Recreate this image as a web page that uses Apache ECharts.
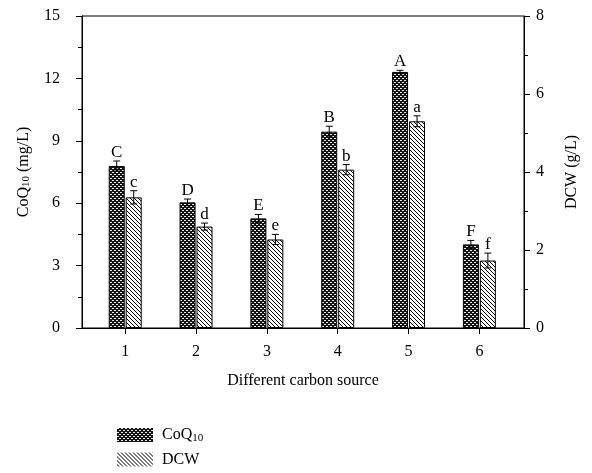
<!DOCTYPE html>
<html>
<head>
<meta charset="utf-8">
<script src="https://cdn.jsdelivr.net/npm/echarts@6/dist/echarts.min.js"></script>
<style>
  html, body { margin: 0; padding: 0; background: #fff; }
  #chart { width: 592px; height: 473px; }
</style>
</head>
<body>
<div id="chart"></div>
<script>
// data
var categories = [1, 2, 3, 4, 5, 6];
var coqValues = [7.79, 6.04, 5.27, 9.44, 12.31, 4.02];
var coqErrors = [0.24, 0.16, 0.19, 0.26, 0.08, 0.19];
var coqLetters = ['C', 'D', 'E', 'B', 'A', 'F'];
var dcwValues = [3.35, 2.60, 2.27, 4.06, 5.30, 1.73];
var dcwErrors = [0.17, 0.09, 0.13, 0.13, 0.14, 0.19];
var dcwLetters = ['c', 'd', 'e', 'b', 'a', 'f'];

var serif = 'Liberation Serif';

function makePattern(kind) {
    var c = document.createElement('canvas');
    c.width = 4; c.height = 4;
    var ctx = c.getContext('2d');
    if (kind === 'cross') {
        ctx.fillStyle = '#151515';
        ctx.fillRect(0, 0, 4, 4);
        ctx.fillStyle = '#e8e8e8';
        ctx.fillRect(0, 0, 2, 1);
        ctx.fillRect(2, 2, 2, 1);
    } else {
        ctx.fillStyle = '#fff';
        ctx.fillRect(0, 0, 4, 4);
        ctx.fillStyle = '#000';
        for (var i = 0; i < 4; i++) ctx.fillRect(i, i, 1, 1);
    }
    return { image: c, repeat: 'repeat' };
}

var coqFill = makePattern('cross');
var dcwFill = makePattern('diag');

function pairs(vals, errs, letters) {
    return categories.map(function (c, i) { return [c, vals[i], errs[i], letters[i]]; });
}

function errorRenderer(offset) {
    return function (params, api) {
        var x = api.value(0), y = api.value(1), e = api.value(2);
        var top = api.coord([x, y + e]);
        var bot = api.coord([x, y - e]);
        var cx = top[0] + offset;
        var lineStyle = { stroke: '#000', lineWidth: 1 };
        return {
            type: 'group',
            children: [
                { type: 'line', shape: { x1: cx, y1: top[1], x2: cx, y2: bot[1] }, style: lineStyle },
                { type: 'line', shape: { x1: cx - 3.5, y1: top[1], x2: cx + 3.5, y2: top[1] }, style: lineStyle },
                { type: 'line', shape: { x1: cx - 3.5, y1: bot[1], x2: cx + 3.5, y2: bot[1] }, style: lineStyle },
                {
                    type: 'text',
                    style: {
                        x: cx, y: top[1],
                        text: api.value(3),
                        align: 'center', verticalAlign: 'bottom',
                        font: '17px "Liberation Serif"', fill: '#000'
                    }
                }
            ]
        };
    };
}

var dom = document.getElementById('chart');
var myChart = echarts.init(dom);
var option = {
    animation: false,
    textStyle: { fontFamily: serif, color: '#000' },
    grid: {
        left: 82, right: 68, top: 16, bottom: 145,
        show: true, borderColor: '#000', borderWidth: 1
    },
    legend: {
        orient: 'vertical',
        left: 112, top: 422,
        itemWidth: 36, itemHeight: 14, itemGap: 8,
        icon: 'rect',
        itemStyle: { borderWidth: 0 },
        data: ['CoQ10', 'DCW'],
        formatter: function (name) {
            return name === 'CoQ10' ? 'CoQ{sub|10}' : name;
        },
        textStyle: {
            fontFamily: serif, fontSize: 16, color: '#000', padding: [0, 0, 0, 4],
            rich: { sub: { fontFamily: serif, fontSize: 11, verticalAlign: 'bottom', padding: [6, 0, 0, 0] } }
        }
    },
    xAxis: {
        type: 'value',
        min: 0.39, max: 6.63,
        name: 'Different carbon source',
        nameLocation: 'middle', nameGap: 45,
        nameTextStyle: { fontFamily: serif, fontSize: 16, color: '#000' },
        splitLine: { show: false },
        axisLine: { show: true, lineStyle: { color: '#000' } },
        axisTick: { show: true, inside: false, length: 6, customValues: categories, lineStyle: { color: '#000' } },
        axisLabel: { customValues: categories, margin: 16, fontFamily: serif, fontSize: 16, color: '#000' }
    },
    yAxis: [
        {
            type: 'value', min: 0, max: 15, interval: 3,
            name: 'CoQ{sub|10} (mg/L)',
            nameLocation: 'middle', nameGap: 50, nameRotate: 90,
            nameTextStyle: {
                fontFamily: serif, fontSize: 16, color: '#000',
                rich: { sub: { fontFamily: serif, fontSize: 11, verticalAlign: 'bottom', padding: [6, 0, 0, 0] } }
            },
            splitLine: { show: false },
            axisLine: { show: true, lineStyle: { color: '#000' } },
            axisTick: { show: true, length: 6, lineStyle: { color: '#000' } },
            minorTick: { show: true, splitNumber: 2, length: 4, lineStyle: { color: '#000' } },
            axisLabel: { margin: 22, fontFamily: serif, fontSize: 16, color: '#000' }
        },
        {
            type: 'value', min: 0, max: 8, interval: 2,
            position: 'right',
            name: 'DCW (g/L)',
            nameLocation: 'middle', nameGap: 40, nameRotate: 90,
            nameTextStyle: { fontFamily: serif, fontSize: 16, color: '#000' },
            splitLine: { show: false },
            axisLine: { show: true, lineStyle: { color: '#000' } },
            axisTick: { show: true, length: 6, lineStyle: { color: '#000' } },
            minorTick: { show: true, splitNumber: 2, length: 4, lineStyle: { color: '#000' } },
            axisLabel: { margin: 12, fontFamily: serif, fontSize: 16, color: '#000' }
        }
    ],
    series: [
        {
            name: 'CoQ10', type: 'bar', yAxisIndex: 0,
            barWidth: 16, barGap: '6%',
            itemStyle: { color: coqFill, borderColor: '#000', borderWidth: 1 },
            data: categories.map(function (c, i) { return [c, coqValues[i]]; })
        },
        {
            name: 'DCW', type: 'bar', yAxisIndex: 1,
            barWidth: 16, barGap: '6%',
            itemStyle: { color: dcwFill, borderColor: '#000', borderWidth: 1 },
            data: categories.map(function (c, i) { return [c, dcwValues[i]]; })
        },
        {
            type: 'custom', yAxisIndex: 0, z: 5,
            renderItem: errorRenderer(-8.5),
            data: pairs(coqValues, coqErrors, coqLetters)
        },
        {
            type: 'custom', yAxisIndex: 1, z: 5,
            renderItem: errorRenderer(8.5),
            data: pairs(dcwValues, dcwErrors, dcwLetters)
        }
    ]
};
myChart.setOption(option, true);
window.onresize = myChart.resize;
</script>
</body>
</html>
